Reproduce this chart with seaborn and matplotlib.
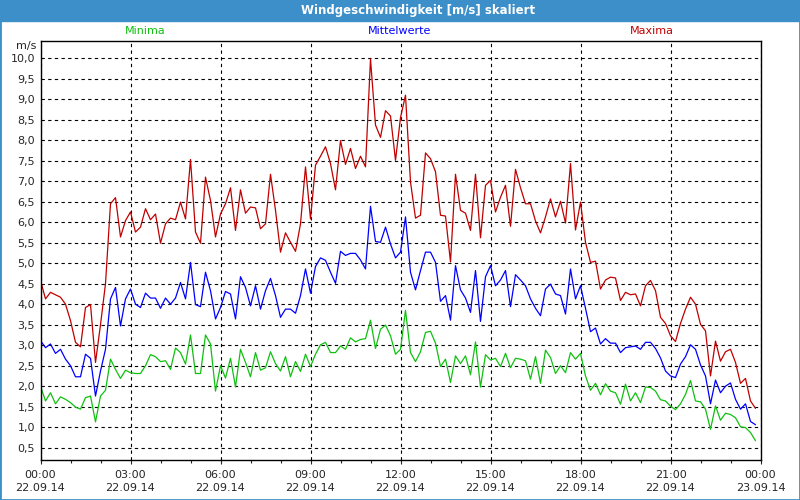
import pandas as pd
import matplotlib
matplotlib.use("Agg")
import matplotlib.pyplot as plt
import matplotlib.dates as mdates
from matplotlib.patches import Rectangle
from matplotlib.ticker import MultipleLocator, FuncFormatter
import seaborn as sns

# 10-minute values, 22.09.14 00:00 .. 23:50
maxima = [4.58, 4.13, 4.29, 4.23, 4.17, 4.0, 3.6, 3.07, 2.96, 3.92,
          3.99, 2.58, 3.5, 4.5, 6.45, 6.6, 5.64, 6.04, 6.25, 5.76,
          5.88, 6.33, 6.06, 6.2, 5.49, 5.96, 6.1, 6.06, 6.49, 6.08,
          7.53, 5.76, 5.49, 7.1, 6.53, 5.64, 6.2, 6.45, 6.84, 5.8,
          6.79, 6.22, 6.37, 6.35, 5.84, 5.96, 7.17, 6.29, 5.27, 5.74,
          5.51, 5.29, 5.96, 7.35, 6.08, 7.39, 7.61, 7.84, 7.43, 6.79,
          7.99, 7.41, 7.8, 7.31, 7.61, 7.35, 9.98, 8.37, 8.07, 8.72,
          8.59, 7.51, 8.55, 9.1, 6.98, 6.1, 6.17, 7.69, 7.55, 7.23,
          6.17, 6.15, 5.03, 7.17, 6.29, 6.22, 5.8, 7.17, 5.62, 6.9,
          7.02, 6.25, 6.61, 6.9, 5.9, 7.29, 6.84, 6.45, 6.45, 6.03,
          5.74, 6.13, 6.57, 6.13, 6.51, 5.98, 7.43, 5.81, 6.49, 5.51,
          5.02, 5.05, 4.37, 4.59, 4.66, 4.64, 4.09, 4.29, 4.23, 4.25,
          3.96, 4.45, 4.58, 4.33, 3.68, 3.53, 3.23, 3.09, 3.53, 3.88,
          4.17, 4.0, 3.51, 3.35, 2.25, 3.1, 2.61, 2.84, 2.9, 2.58,
          2.07, 2.19, 1.64, 1.46]

mittelwerte = [3.11, 2.94, 3.03, 2.8, 2.9, 2.66, 2.5, 2.23, 2.23, 2.78,
               2.68, 1.76, 2.37, 2.9, 4.13, 4.41, 3.47, 4.13, 4.37, 4.0,
               3.92, 4.27, 4.15, 4.15, 3.9, 4.15, 4.0, 4.15, 4.53, 4.13,
               5.02, 3.99, 3.94, 4.78, 4.33, 3.64, 3.92, 4.31, 4.25, 3.64,
               4.67, 4.41, 3.96, 4.45, 3.88, 4.33, 4.63, 4.21, 3.68, 3.88,
               3.88, 3.78, 4.21, 4.86, 4.27, 4.92, 5.13, 5.07, 4.78, 4.51,
               5.29, 5.19, 5.24, 5.24, 5.08, 4.86, 6.39, 5.53, 5.51, 5.88,
               5.47, 5.13, 5.27, 6.13, 4.78, 4.35, 4.82, 5.27, 5.27, 5.02,
               4.07, 4.21, 3.61, 4.94, 4.35, 4.15, 3.8, 4.82, 3.58, 4.67,
               4.94, 4.45, 4.59, 4.82, 3.94, 4.72, 4.59, 4.45, 4.13, 3.9,
               3.72, 4.37, 4.49, 4.25, 4.21, 3.76, 4.86, 4.13, 4.45, 3.9,
               3.33, 3.42, 3.03, 3.16, 3.05, 3.05, 2.82, 2.94, 2.96, 2.98,
               2.9, 3.07, 3.07, 2.92, 2.69, 2.37, 2.25, 2.21, 2.54, 2.72,
               3.01, 2.9, 2.52, 2.25, 1.57, 2.15, 1.84, 2.0, 2.08, 1.68,
               1.44, 1.57, 1.14, 1.06]

minima = [2.0, 1.64, 1.84, 1.57, 1.74, 1.68, 1.6, 1.49, 1.44, 1.72,
          1.76, 1.13, 1.76, 1.9, 2.66, 2.41, 2.19, 2.39, 2.33, 2.31,
          2.31, 2.5, 2.77, 2.72, 2.6, 2.62, 2.41, 2.93, 2.82, 2.54,
          3.25, 2.31, 2.31, 3.25, 3.03, 1.88, 2.5, 2.2, 2.68, 1.98,
          2.9, 2.58, 2.23, 2.82, 2.39, 2.45, 2.84, 2.55, 2.37, 2.72,
          2.23, 2.6, 2.36, 2.78, 2.48, 2.78, 3.01, 3.07, 2.82, 2.82,
          2.98, 2.9, 3.18, 3.08, 3.14, 3.16, 3.61, 2.92, 3.39, 3.49,
          3.23, 2.78, 2.9, 3.85, 2.82, 2.6, 2.84, 3.31, 3.34, 3.05,
          2.48, 2.66, 2.09, 2.74, 2.55, 2.74, 2.28, 3.08, 1.98, 2.77,
          2.64, 2.68, 2.48, 2.8, 2.45, 2.68, 2.66, 2.62, 2.17, 2.72,
          2.07, 2.88, 2.7, 2.31, 2.5, 2.33, 2.82, 2.66, 2.8, 2.25,
          1.9, 2.07, 1.79, 2.06, 1.88, 1.84, 1.56, 2.05, 1.64, 1.84,
          1.6, 1.98, 1.97, 1.88, 1.67, 1.64, 1.51, 1.43, 1.57, 1.8,
          2.14, 1.64, 1.62, 1.44, 0.95, 1.52, 1.17, 1.34, 1.31, 1.23,
          1.01, 0.99, 0.87, 0.67]

zeit = pd.date_range("2014-09-22 00:00", periods=len(maxima), freq="10min")

df = pd.DataFrame({"zeit": zeit, "Maxima": maxima,
                   "Mittelwerte": mittelwerte, "Minima": minima})

sns.set_style("white")
plt.rcParams["font.family"] = ["DejaVu Sans"]

fig = plt.figure(figsize=(8, 5), dpi=100)
ax = fig.add_axes([40.5 / 800, 1 - 460 / 500, 720 / 800, 419 / 500])

farben = {"Minima": "#10c010", "Mittelwerte": "#0000ff", "Maxima": "#c00000"}
for name in ["Minima", "Mittelwerte", "Maxima"]:
    sns.lineplot(data=df, x="zeit", y=name, ax=ax, color=farben[name],
                 linewidth=0.9)

ax.set_xlim(pd.Timestamp("2014-09-22 00:00"), pd.Timestamp("2014-09-23 00:00"))
ax.set_ylim(0.2, 10.42)
ax.set_xlabel("")
ax.set_ylabel("")

ax.xaxis.set_major_locator(mdates.HourLocator(byhour=range(0, 24, 3)))
ax.xaxis.set_minor_locator(mdates.HourLocator())
ax.xaxis.set_major_formatter(mdates.DateFormatter("%H:%M\n%d.%m.%y"))
ax.yaxis.set_major_locator(MultipleLocator(0.5))
ax.yaxis.set_major_formatter(FuncFormatter(lambda v, p: f"{v:.1f}".replace(".", ",")))

ax.grid(True, color="black", linestyle=(0, (3, 3)), linewidth=0.8)
for s in ax.spines.values():
    s.set_color("black")
    s.set_linewidth(1.0)

ax.tick_params(axis="x", which="major", length=3, width=0.8, pad=4,
               labelsize=8, bottom=True)
ax.tick_params(axis="x", which="minor", length=2, width=0.8, bottom=True)
ax.tick_params(axis="y", length=0, pad=4, labelsize=8)
for lab in ax.get_xticklabels():
    lab.set_linespacing(1.35)

ax.text(-0.006, 1.0, "m/s", transform=ax.transAxes, ha="right", va="top",
        fontsize=8)

# legend texts above plot
fig.text(145 / 800, 1 - 31 / 500, "Minima", color=farben["Minima"],
         ha="center", va="center", fontsize=8)
fig.text(400 / 800, 1 - 31 / 500, "Mittelwerte", color=farben["Mittelwerte"],
         ha="center", va="center", fontsize=8)
fig.text(652 / 800, 1 - 31 / 500, "Maxima", color=farben["Maxima"],
         ha="center", va="center", fontsize=8)

# window title bar and frame
fig.patches.append(Rectangle((0, 1 - 21 / 500), 1, 21 / 500,
                             transform=fig.transFigure, color="#3c8fc8",
                             zorder=0))
fig.patches.append(Rectangle((0, 0), 1, 1, transform=fig.transFigure,
                             fill=False, edgecolor="#3c8fc8", linewidth=2.0))
fig.text(418 / 800, 1 - 10.5 / 500, "Windgeschwindigkeit [m/s] skaliert",
         color="white", fontweight="bold", ha="center", va="center",
         fontsize=8.5)

fig.savefig("out.png", dpi=100)
